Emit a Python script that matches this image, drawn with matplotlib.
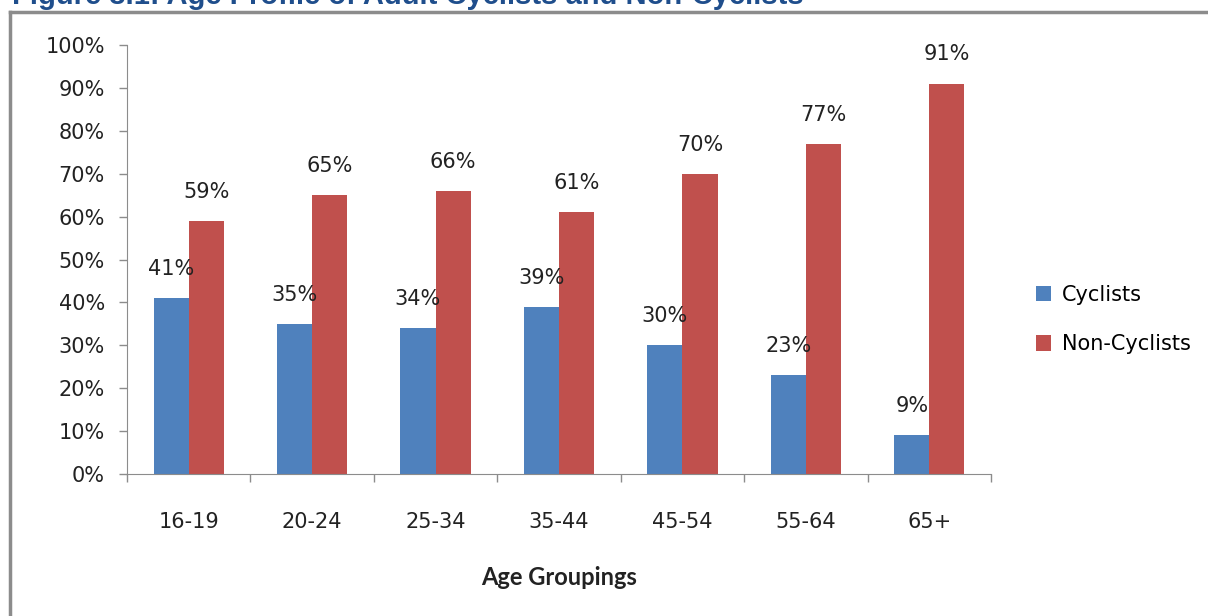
import matplotlib.pyplot as plt
import numpy as np
from matplotlib.lines import Line2D

groups = ["16-19", "20-24", "25-34", "35-44", "45-54", "55-64", "65+"]
cyclists = [41, 35, 34, 39, 30, 23, 9]
non_cyclists = [59, 65, 66, 61, 70, 77, 91]
y_ticks = [0, 10, 20, 30, 40, 50, 60, 70, 80, 90, 100]

blue = "#4F81BD"
red = "#C0504D"
axis_grey = "#8C8C8C"
txt = "#222222"

plt.rcParams["font.family"] = ["DejaVu Sans"]

fig = plt.figure(figsize=(12.08, 6.16), dpi=100)
ax = fig.add_axes([127 / 1208, 142 / 616, 864 / 1208, 429 / 616])

x = np.arange(len(groups))
w = 0.285
ax.bar(x - w / 2, cyclists, w, color=blue, label="Cyclists")
ax.bar(x + w / 2, non_cyclists, w, color=red, label="Non-Cyclists")

for xi, c, n in zip(x, cyclists, non_cyclists):
    ax.annotate(f"{c}%", (xi - w / 2, c), xytext=(0, 21), textcoords="offset points",
                ha="center", va="center", fontsize=15, color=txt)
    ax.annotate(f"{n}%", (xi + w / 2, n), xytext=(0, 21), textcoords="offset points",
                ha="center", va="center", fontsize=15, color=txt)

ax.set_xlim(-0.5, len(groups) - 0.5)
ax.set_ylim(0, 100)
ax.set_yticks(y_ticks)
ax.set_yticklabels([f"{t}%" for t in y_ticks], fontsize=15, color=txt)
ax.tick_params(axis="y", length=6, width=1, color=axis_grey, pad=10)

# boundary ticks on major, labels on minor
ax.set_xticks(np.arange(len(groups) + 1) - 0.5)
ax.set_xticklabels([])
ax.set_xticks(x, minor=True)
ax.set_xticklabels(groups, minor=True, fontsize=15, color=txt)
ax.tick_params(axis="x", which="major", length=6, width=1, color=axis_grey)
ax.tick_params(axis="x", which="minor", length=0, pad=27)

for s in ["top", "right"]:
    ax.spines[s].set_visible(False)
for s in ["left", "bottom"]:
    ax.spines[s].set_color(axis_grey)

ax.set_xlabel("Age Groupings", fontsize=17, fontweight="bold", color=txt,
              family="Lato", labelpad=25)

ax.legend(loc="center left", bbox_to_anchor=(1.03, 0.36), frameon=False,
          fontsize=15, handlelength=0.75, handleheight=0.75, labelspacing=1.4,
          handletextpad=0.5)

# outer frame of the report figure and the cut-off caption
fig.add_artist(Line2D([10 / 1208, 10 / 1208], [0, 1 - 12 / 616], color=axis_grey, lw=2.5))
fig.add_artist(Line2D([10 / 1208, 1], [1 - 12 / 616, 1 - 12 / 616], color=axis_grey, lw=2.5))
fig.text(12 / 1208, 1 - 4 / 616, "Figure 3.1: Age Profile of Adult Cyclists and Non-Cyclists",
         fontsize=21, fontweight="bold", color="#1F4E8C", family="Liberation Sans",
         va="baseline", ha="left")

fig.savefig("out.png", dpi=100)
